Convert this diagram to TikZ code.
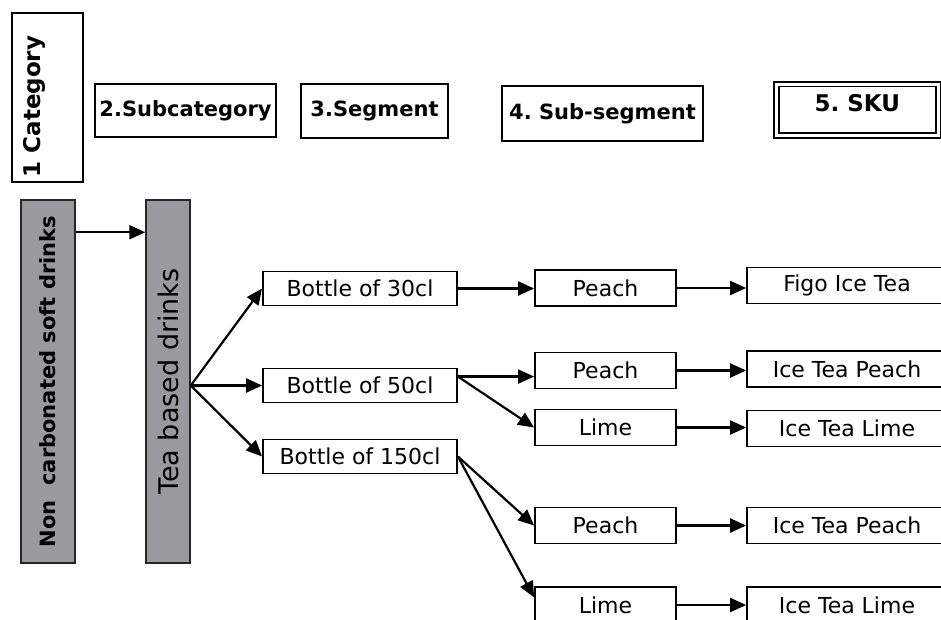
\documentclass[tikz,border=0pt]{standalone}
\usepackage{fontspec}
\setmainfont{DejaVu Sans}
\frenchspacing
\usetikzlibrary{arrows.meta,calc}
\definecolor{barfill}{RGB}{154,153,158}
\tikzset{
  head/.style={draw, line width=2.4pt, font=\fontsize{21}{25}\selectfont\bfseries, inner sep=3pt},
  bar/.style={draw=black!85, line width=1.5pt, fill=barfill, rotate=90, minimum width=363pt},
  item/.style={draw, line width=1.8pt, font=\fontsize{22}{26}\selectfont, inner sep=2pt, minimum height=36pt},
  bottle/.style={item, minimum width=194pt, minimum height=34pt},
  flavour/.style={item, minimum width=141pt},
  sku/.style={item, minimum width=200pt},
  flow/.style={-{Triangle[length=16pt, width=14pt]}, line width=2.2pt},
}
\begin{document}
\begin{tikzpicture}[x=1pt, y=-1pt]
  \clip (0,0) rectangle (941,619);
  % header row
  \node[head, rotate=90, font=\fontsize{23}{27}\selectfont\bfseries, text width=159pt, align=left,
        inner xsep=5pt, minimum height=71pt, text depth=31pt] (cat) at (47.5,97.5) {1 Category};
  \node[head, minimum width=181pt, minimum height=53pt] (subcat) at (185.5,110.5) {2.Subcategory};
  \node[head, minimum width=147pt, minimum height=54pt] (seg) at (374.5,111) {3.Segment};
  \node[head, minimum width=201pt, minimum height=55pt] (subseg) at (602.5,113.5) {4. Sub-segment};
  \node[head, line width=1.8pt, double, double distance=3pt, minimum width=161.5pt, minimum height=51.5pt,
        font=\fontsize{23}{27}\selectfont\bfseries, text depth=14pt] (skuhead) at (857.25,109.75) {5. SKU};
  % category and subcategory bars
  \node[bar, minimum height=54pt, font=\fontsize{21}{25}\selectfont\bfseries] (ncsd) at (48,381.5)
    {Non\ \ carbonated soft drinks};
  \node[bar, minimum height=44pt, font=\fontsize{27}{32}\selectfont] (tea) at (168,381.5) {Tea based drinks};
  % segments
  \node[bottle] (b30) at (360,288.5) {Bottle of 30cl};
  \node[bottle] (b50) at (360,385.5) {Bottle of 50cl};
  \node[bottle] (b150) at (360,456.5) {Bottle of 150cl};
  % sub-segments
  \node[flavour] (p1) at (605.5,288) {Peach};
  \node[flavour] (p2) at (605.5,370.5) {Peach};
  \node[flavour] (l1) at (605.5,427.5) {Lime};
  \node[flavour] (p3) at (605.5,525.5) {Peach};
  \node[flavour] (l3) at (605.5,605) {Lime};
  % sku
  \node[sku] (f1) at (847,285.5) {Figo Ice Tea};
  \node[sku] (ip1) at (847,369) {Ice Tea Peach};
  \node[sku] (il1) at (847,428.5) {Ice Tea Lime};
  \node[sku] (ip2) at (847,525.5) {Ice Tea Peach};
  \node[sku] (il2) at (847,605) {Ice Tea Lime};
  % arrows
  \draw[flow] ($(ncsd.south east)!33pt!(ncsd.south west)$) coordinate (ncout) -- (ncout -| tea.north);
  \coordinate (fan) at (tea.south |- b50.west);
  \draw[flow] (fan) -- (b30.west);
  \draw[flow] (fan) -- (b50.west);
  \draw[flow] (fan) -- (b150.west);
  \coordinate (b50out) at ($(b50.north east)!0.25!(b50.south east)$);
  \draw[flow] (b30.east) -- (b30.east -| p1.west);
  \draw[flow] (b50out) -- (b50out -| p2.west);
  \draw[flow] (b50out) -- (l1.west);
  \draw[flow] (b150.east) -- (p3.west);
  \draw[flow] (b150.east) -- ($(l3.north west)!0.3!(l3.south west)$);
  \foreach \a/\b in {p1/f1, p2/ip1, l1/il1, p3/ip2, l3/il2}
    \draw[flow] (\a.east) -- (\a.east -| \b.west);
\end{tikzpicture}
\end{document}
